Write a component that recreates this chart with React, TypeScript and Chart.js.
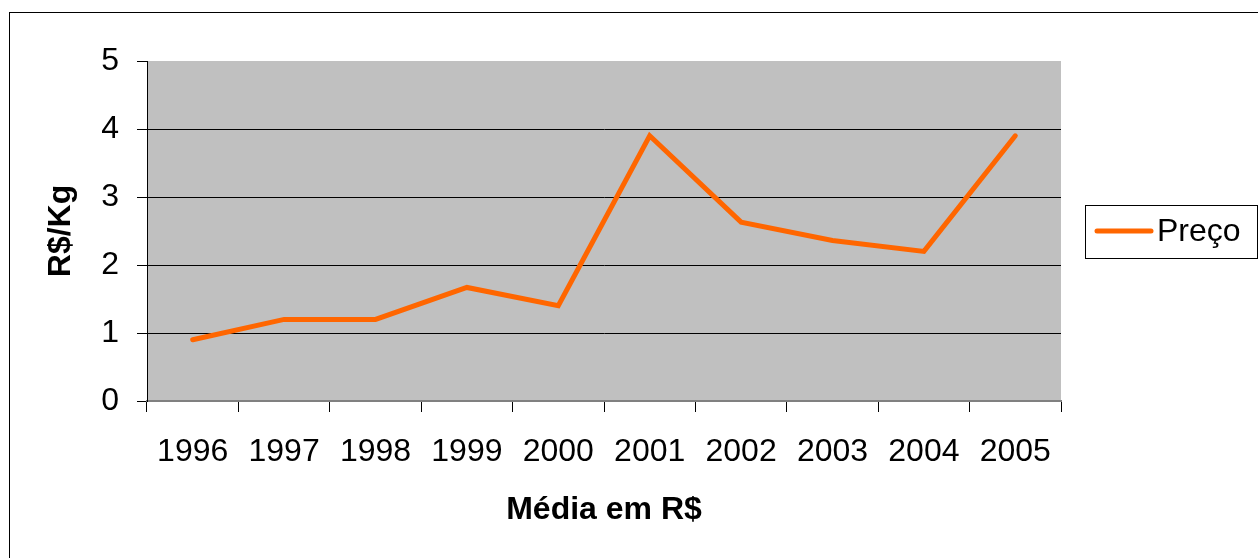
import React, { useEffect, useRef } from "react";
import { Chart, registerables } from "chart.js";

Chart.register(...registerables);

const years = ["1996", "1997", "1998", "1999", "2000", "2001", "2002", "2003", "2004", "2005"];
const precos = [0.9, 1.2, 1.2, 1.67, 1.4, 3.9, 2.63, 2.36, 2.2, 3.9];
const seriesLabel = "Preço";
const yTitle = "R$/Kg";
const xTitle = "Média em R$";
const yMin = 0;
const yMax = 5;

const FONT = "'Liberation Sans', Arial, Helvetica, sans-serif";
const LINE_COLOR = "#FF6600";

const plotBgPlugin = {
  id: "plotBg",
  beforeDraw(chart: any) {
    const { ctx, chartArea } = chart;
    ctx.save();
    ctx.fillStyle = "#C0C0C0";
    ctx.fillRect(chartArea.left, chartArea.top, chartArea.right - chartArea.left, chartArea.bottom - chartArea.top);
    ctx.restore();
  },
};

const boxLegendPlugin = {
  id: "boxLegend",
  afterDraw(chart: any) {
    const { ctx, chartArea } = chart;
    const ds = chart.data.datasets[0];
    const cy = (chartArea.top + chartArea.bottom) / 2;
    const left = chartArea.right + 24;
    const width = 172;
    const height = 53;
    ctx.save();
    ctx.strokeStyle = "#000";
    ctx.lineWidth = 1;
    ctx.strokeRect(Math.round(left) + 0.5, Math.round(cy - height / 2) + 0.5, width, height);
    ctx.strokeStyle = ds.borderColor;
    ctx.lineWidth = 5;
    ctx.lineCap = "round";
    ctx.beginPath();
    ctx.moveTo(left + 12, cy);
    ctx.lineTo(left + 66, cy);
    ctx.stroke();
    ctx.fillStyle = "#000";
    ctx.font = `32px ${FONT}`;
    ctx.textBaseline = "middle";
    ctx.textAlign = "left";
    ctx.fillText(ds.label, left + 72, cy + 1);
    ctx.restore();
  },
};

export default function App() {
  const canvasRef = useRef<HTMLCanvasElement | null>(null);

  useEffect(() => {
    if (!canvasRef.current) return;
    Chart.defaults.font.family = FONT;
    const chart = new Chart(canvasRef.current, {
      type: "line",
      data: {
        labels: years,
        datasets: [
          {
            label: seriesLabel,
            data: precos,
            borderColor: LINE_COLOR,
            backgroundColor: LINE_COLOR,
            borderWidth: 5,
            pointRadius: 0,
            pointHoverRadius: 0,
            tension: 0,
            borderCapStyle: "round",
            borderJoinStyle: "miter",
            fill: false,
          },
        ],
      },
      options: {
        responsive: false,
        animation: false,
        devicePixelRatio: 1,
        layout: { padding: { left: 42, right: 197, top: 61, bottom: 29 } },
        plugins: {
          legend: { display: false },
          tooltip: { enabled: false },
        },
        scales: {
          x: {
            type: "category",
            offset: true,
            afterFit: (scale: any) => {
              scale.height = 128;
            },
            grid: {
              offset: true,
              drawOnChartArea: false,
              drawTicks: true,
              tickLength: 11,
              color: "#000",
              tickColor: "#000",
              lineWidth: 1,
            },
            border: { display: true, color: "#808080", width: 2 },
            ticks: {
              color: "#000",
              font: { size: 32 },
              padding: 21,
              maxRotation: 0,
              autoSkip: false,
            },
            title: {
              display: true,
              text: xTitle,
              color: "#000",
              font: { size: 32, weight: "bold" },
              padding: 0,
            },
          },
          y: {
            min: yMin,
            max: yMax,
            afterFit: (scale: any) => {
              scale.width = 105;
            },
            grid: {
              drawOnChartArea: true,
              drawTicks: true,
              tickLength: 10,
              color: (ctx: any) =>
                ctx.tick && (ctx.tick.value === yMin || ctx.tick.value === yMax) ? "rgba(0,0,0,0)" : "#000",
              tickColor: "#000",
              lineWidth: 1,
            },
            border: { display: true, color: "#000", width: 1 },
            ticks: {
              stepSize: 1,
              color: "#000",
              font: { size: 32 },
              padding: 18,
            },
            title: {
              display: true,
              text: yTitle,
              color: "#000",
              font: { size: 32, weight: "bold" },
              padding: 0,
            },
          },
        },
      },
      plugins: [plotBgPlugin, boxLegendPlugin],
    } as any);
    return () => chart.destroy();
  }, []);

  return (
    <div
      style={{
        position: "fixed",
        left: 0,
        top: 0,
        width: 1258,
        height: 558,
        overflow: "hidden",
        background: "#fff",
      }}
    >
      <div
        style={{
          position: "absolute",
          left: 9,
          top: 12,
          width: 1300,
          height: 600,
          border: "1px solid #000",
          boxSizing: "border-box",
        }}
      />
      <canvas
        ref={canvasRef}
        width={1258}
        height={558}
        style={{ position: "absolute", left: 0, top: 0, width: 1258, height: 558 }}
      />
    </div>
  );
}
